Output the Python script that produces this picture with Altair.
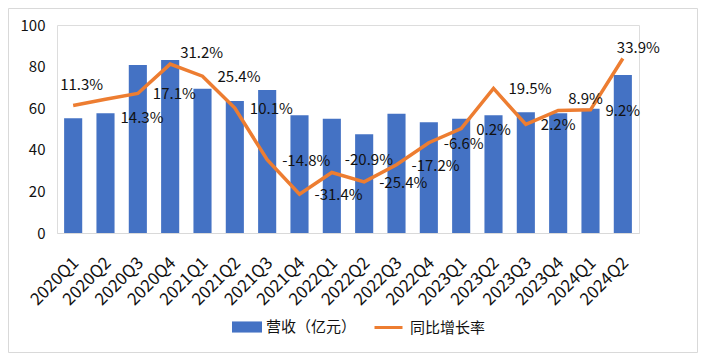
import altair as alt
import pandas as pd

categories = ["2020Q1", "2020Q2", "2020Q3", "2020Q4", "2021Q1", "2021Q2", "2021Q3", "2021Q4",
              "2022Q1", "2022Q2", "2022Q3", "2022Q4", "2023Q1", "2023Q2", "2023Q3", "2023Q4",
              "2024Q1", "2024Q2"]
revenue = [55.2, 57.6, 80.8, 83.2, 69.3, 63.5, 68.8, 56.6, 54.9, 47.5, 57.3, 53.3,
           54.9, 56.6, 58.1, 57.6, 59.7, 76.0]
growth = [11.3, 14.3, 17.1, 31.2, 25.4, 10.1, -14.8, -31.4, -20.9, -25.4, -17.2, -6.6,
          0.2, 19.5, 2.2, 8.9, 9.2, 33.9]
bar_name = "营收（亿元）"
line_name = "同比增长率"

df = pd.DataFrame({"q": categories, "rev": revenue, "g": growth})

FONT = "Noto Sans CJK SC"
TXT = "#111111"
W, H = 582, 208
PAD = {"left": 49, "top": 17, "right": 59, "bottom": 120}

base = alt.Chart(df)

xenc = alt.X("q:N", sort=categories,
             scale=alt.Scale(paddingInner=0.44, paddingOuter=0.22),
             axis=alt.Axis(title=None, labelAngle=-45, labelAlign="right", labelBaseline="middle",
                           labelPadding=27, labelOffset=3, ticks=False, tickSize=0,
                           domainColor="#d9d9d9",
                           labelFont=FONT, labelFontSize=17, labelColor=TXT, grid=False))

frame = alt.Chart(alt.Data(values=[{"a": 1}])).mark_rect(
    fillOpacity=0, stroke="#d9d9d9", strokeWidth=1
).encode(
    x=alt.value(-48.5), x2=alt.value(W + PAD["right"] - 0.5),
    y=alt.value(-PAD["top"] + 0.5), y2=alt.value(H + PAD["bottom"] - 0.5)
)

bars = base.transform_calculate(s1="'" + bar_name + "'").mark_bar(color="#4472C4").encode(
    x=xenc,
    y=alt.Y("rev:Q", scale=alt.Scale(domain=[0, 100], nice=False),
            axis=alt.Axis(title=None, orient="left", values=[0, 20, 40, 60, 80, 100], domain=False,
                          ticks=False, tickSize=0, grid=False, labelPadding=12,
                          labelFont=FONT, labelFontSize=15, labelColor=TXT)),
    fill=alt.Fill("s1:N", scale=alt.Scale(domain=[bar_name], range=["#4472C4"]),
                  legend=alt.Legend(title=None, orient="none", legendX=175, legendY=287, padding=0,
                                    symbolType="M-1,-0.37H1V0.37H-1Z", symbolSize=900,
                                    symbolStrokeWidth=0, labelFont=FONT, labelFontSize=15,
                                    labelColor=TXT, labelOffset=4)),
)

yR = alt.Y("g:Q", scale=alt.Scale(domain=[-50, 50], nice=False),
           axis=alt.Axis(title=None, orient="right", values=[-50, -30, -10, 10, 30, 50], domain=False,
                         ticks=False, tickSize=0, grid=False, labelPadding=11,
                         labelExpr="datum.value + '%'",
                         labelFont=FONT, labelFontSize=15, labelColor=TXT))

line = base.transform_calculate(s2="'" + line_name + "'").mark_line(strokeWidth=3.5).encode(
    x=alt.X("q:N", sort=categories),
    y=yR,
    stroke=alt.Stroke("s2:N", scale=alt.Scale(domain=[line_name], range=["#ED7D31"]),
                      legend=alt.Legend(title=None, orient="none", legendX=316, legendY=287, padding=0,
                                        symbolType="stroke", symbolSize=784, symbolStrokeWidth=3,
                                        labelFont=FONT, labelFontSize=15, labelColor=TXT,
                                        labelOffset=6)),
)

special = {
    "2020Q1": ("left", -13, -20),
    "2020Q2": ("left", 15, 19),
    "2020Q4": ("left", 10, -11),
    "2022Q1": ("left", 13, -12),
    "2023Q4": ("left", 10, -11),
    "2024Q2": ("left", -6, -10),
}


def label_layer(filter_expr, align, dx, dy):
    return base.transform_calculate(
        lab="(datum.g < 0 ? '-' : '') + format(abs(datum.g), '.1f') + '%'"
    ).transform_filter(filter_expr).mark_text(
        align=align, baseline="middle", dx=dx, dy=dy, font=FONT, fontSize=15, color=TXT
    ).encode(
        x=alt.X("q:N", sort=categories),
        y=alt.Y("g:Q", axis=None),
        text="lab:N",
    )


sp_list = "[" + ",".join("'" + k + "'" for k in special) + "]"
labels = [label_layer("indexof(" + sp_list + ", datum.q) < 0", "left", 15, 1)]
for k, (a, dx, dy) in special.items():
    labels.append(label_layer("datum.q == '" + k + "'", a, dx, dy))

right = alt.layer(line, *labels)

chart = alt.layer(frame, bars, right).resolve_scale(y="independent").properties(
    width=W, height=H,
    autosize=alt.AutoSizeParams(type="none"),
    padding=PAD,
).configure_view(stroke=None).configure(background="white")

chart.save("out.html", embed_options={"renderer": "svg", "actions": False})
